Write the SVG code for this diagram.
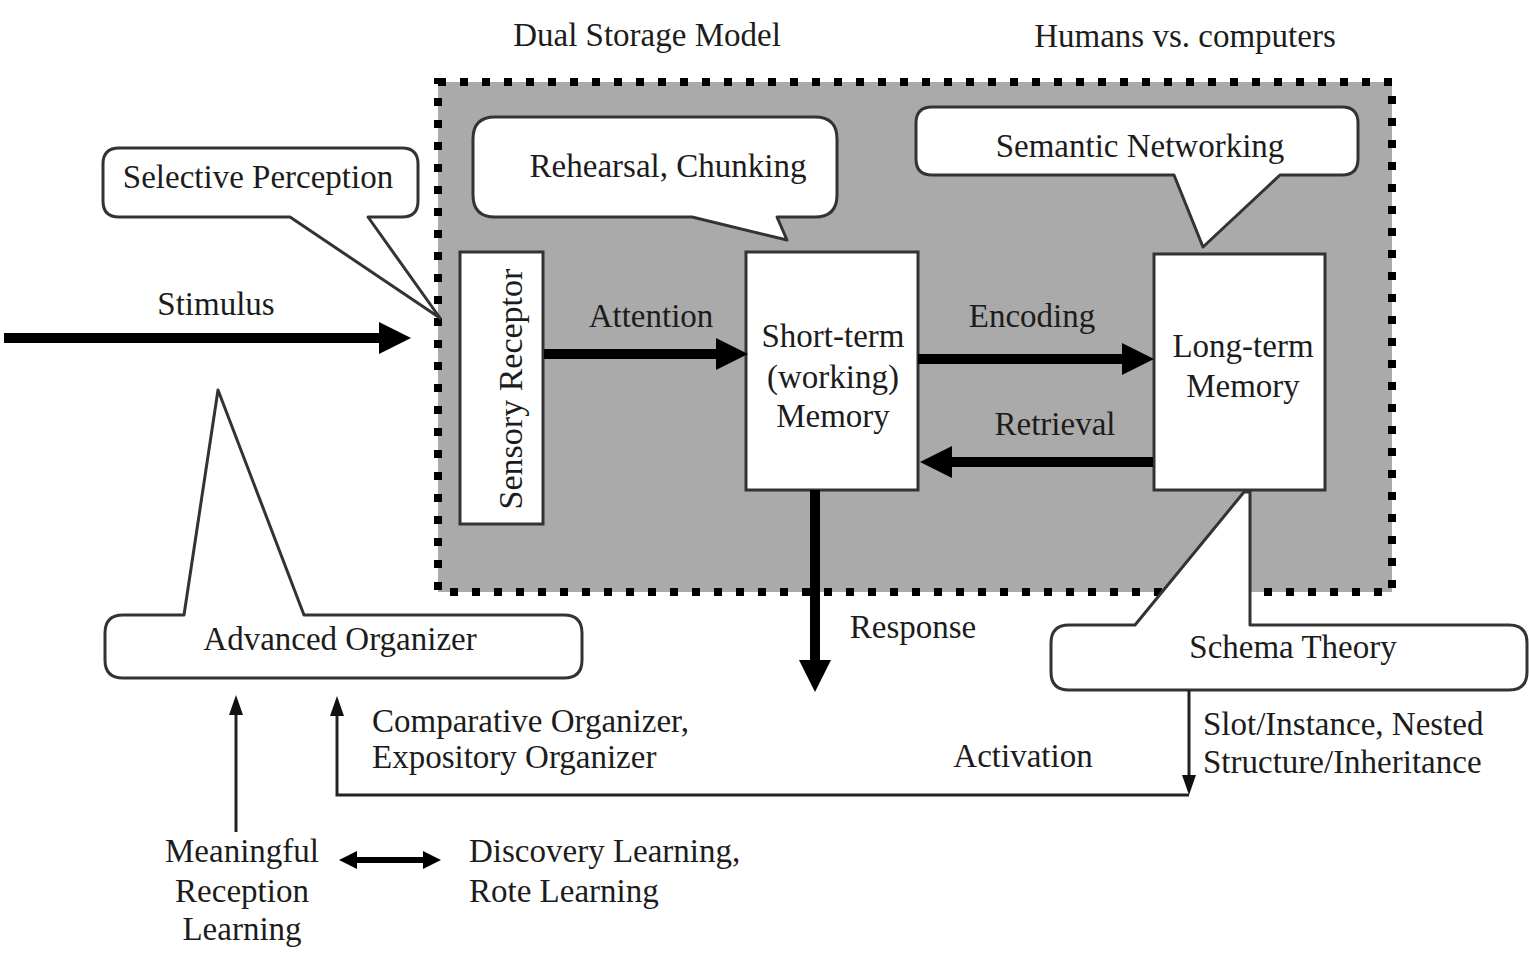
<svg xmlns="http://www.w3.org/2000/svg" width="1529" height="955" viewBox="0 0 1529 955">
<style>
  text { font-family: "Liberation Serif", "Times New Roman", serif; font-size: 33px; fill: #1c1c1c; }
  .mid { text-anchor: middle; }
  .callout { fill: #ffffff; stroke: #333333; stroke-width: 3; stroke-linejoin: round; }
  .box { fill: #ffffff; stroke: #333333; stroke-width: 3; }
  .thick { stroke: #000000; stroke-width: 10; fill: none; }
  .thin { stroke: #222222; stroke-width: 3; fill: none; }
</style>
<defs>
  <marker id="big" markerUnits="userSpaceOnUse" markerWidth="32" markerHeight="32" viewBox="0 0 32 32" refX="0" refY="16" orient="auto">
    <path d="M0,0 L32,16 L0,32 Z" fill="#000000"/>
  </marker>
  <marker id="small" markerUnits="userSpaceOnUse" markerWidth="20" markerHeight="14" viewBox="0 0 20 14" refX="0" refY="7" orient="auto">
    <path d="M0,0 L20,7 L0,14 Z" fill="#111111"/>
  </marker>
  <marker id="dbl" markerUnits="userSpaceOnUse" markerWidth="18" markerHeight="18" viewBox="0 0 18 18" refX="0" refY="9" orient="auto-start-reverse">
    <path d="M0,0 L18,9 L0,18 Z" fill="#000000"/>
  </marker>
</defs>
<rect x="0" y="0" width="1529" height="955" fill="#ffffff"/>

<g id="dual-storage-container">
  <rect x="438" y="82" width="954" height="510" fill="#aaaaaa"/>
  <rect x="438" y="82" width="954" height="510" fill="none" stroke="#000000" stroke-width="8" stroke-dasharray="8 14"/>
</g>

<g id="title-dual">
  <text class="mid" x="647" y="46">Dual Storage Model</text>
</g>
<g id="title-humans">
  <text class="mid" x="1185" y="47">Humans vs. computers</text>
</g>

<g id="selective-perception">
  <path class="callout" d="M119,148 H402 Q418,148 418,164 V201 Q418,217 402,217 H368 L440,318 L290,217 H119 Q103,217 103,201 V164 Q103,148 119,148 Z"/>
  <text class="mid" x="258" y="188">Selective Perception</text>
</g>

<g id="rehearsal-chunking">
  <path class="callout" d="M495,117 H815 Q837,117 837,139 V195 Q837,217 815,217 H777 L787,240 L692,217 H495 Q473,217 473,195 V139 Q473,117 495,117 Z"/>
  <text class="mid" x="668" y="177">Rehearsal, Chunking</text>
</g>

<g id="semantic-networking">
  <path class="callout" d="M932,107 H1342 Q1358,107 1358,123 V159 Q1358,175 1342,175 H1280 L1203,247 L1174,175 H932 Q916,175 916,159 V123 Q916,107 932,107 Z"/>
  <text class="mid" x="1140" y="157">Semantic Networking</text>
</g>

<g id="sensory-receptor">
  <rect class="box" x="460" y="252" width="83" height="272"/>
  <text class="mid" transform="translate(522,389) rotate(-90)" style="font-size:34px">Sensory Receptor</text>
</g>

<g id="short-term-memory">
  <rect class="box" x="746" y="252" width="172" height="238"/>
  <text class="mid" x="833" y="347">Short-term</text>
  <text class="mid" x="833" y="388">(working)</text>
  <text class="mid" x="833" y="427">Memory</text>
</g>

<g id="long-term-memory">
  <rect class="box" x="1154" y="254" width="171" height="236"/>
  <text class="mid" x="1243" y="357">Long-term</text>
  <text class="mid" x="1243" y="397">Memory</text>
</g>

<g id="schema-theory">
  <path class="callout" d="M1069,625 H1135 L1244,492 L1250,492 L1250,625 H1509 Q1527,625 1527,643 V672 Q1527,690 1509,690 H1069 Q1051,690 1051,672 V643 Q1051,625 1069,625 Z"/>
  <text class="mid" x="1293" y="658">Schema Theory</text>
</g>

<g id="advanced-organizer">
  <path class="callout" d="M123,615 H184 L218,390 L304,615 H564 Q582,615 582,633 V660 Q582,678 564,678 H123 Q105,678 105,660 V633 Q105,615 123,615 Z"/>
  <text class="mid" x="340" y="650">Advanced Organizer</text>
</g>

<g id="meaningful-reception">
  <text class="mid" x="242" y="862">Meaningful</text>
  <text class="mid" x="242" y="902">Reception</text>
  <text class="mid" x="242" y="940">Learning</text>
</g>

<g id="discovery-rote">
  <text x="469" y="862">Discovery Learning,</text>
  <text x="469" y="902">Rote Learning</text>
</g>

<g id="connectors">
  <line class="thick" x1="4" y1="338" x2="379" y2="338" marker-end="url(#big)"/>
  <line class="thick" x1="544" y1="354" x2="716" y2="354" marker-end="url(#big)"/>
  <line class="thick" x1="918" y1="359" x2="1122" y2="359" marker-end="url(#big)"/>
  <line class="thick" x1="1153" y1="462" x2="952" y2="462" marker-end="url(#big)"/>
  <line class="thick" x1="815" y1="490" x2="815" y2="660" marker-end="url(#big)"/>
  <line class="thin" x1="1189" y1="690" x2="1189" y2="775" marker-end="url(#small)"/>
  <path class="thin" d="M1189,795 H337 V716" marker-end="url(#small)"/>
  <line class="thin" x1="236" y1="832" x2="236" y2="715" marker-end="url(#small)"/>
  <line x1="357" y1="860" x2="423" y2="860" stroke="#000000" stroke-width="6" marker-start="url(#dbl)" marker-end="url(#dbl)"/>
  <text x="216" y="315" class="mid">Stimulus</text>
  <text x="651" y="327" class="mid">Attention</text>
  <text x="1032" y="327" class="mid">Encoding</text>
  <text x="1055" y="435" class="mid">Retrieval</text>
  <text x="913" y="638" class="mid">Response</text>
  <text x="1023" y="767" class="mid">Activation</text>
  <text x="372" y="732">Comparative Organizer,</text>
  <text x="372" y="768">Expository Organizer</text>
  <text x="1203" y="735">Slot/Instance, Nested</text>
  <text x="1203" y="773">Structure/Inheritance</text>
</g>
</svg>
